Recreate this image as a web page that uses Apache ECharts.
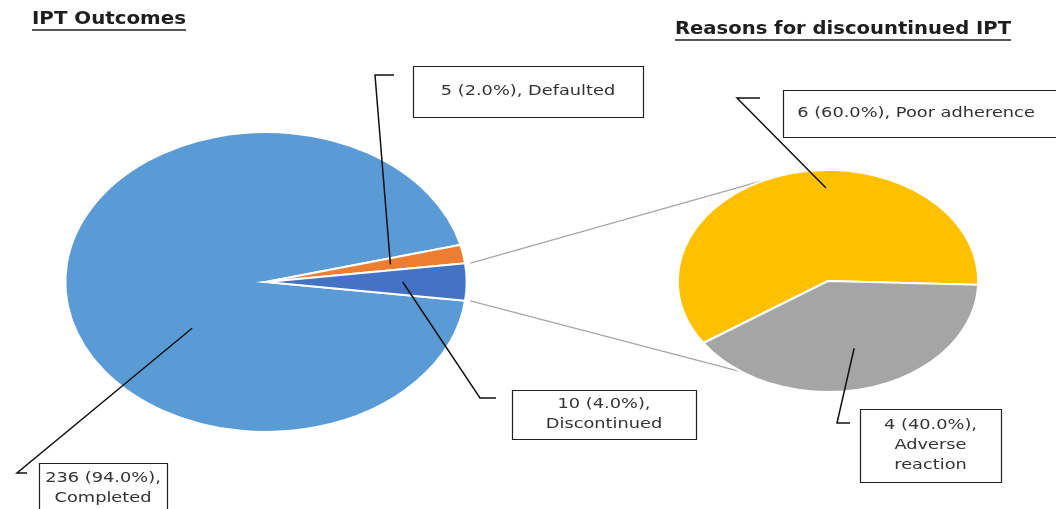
<!DOCTYPE html>
<html>
<head>
<meta charset="utf-8">
<script src="https://cdn.jsdelivr.net/npm/echarts@6/dist/echarts.min.js"></script>
<style>
  html, body { margin: 0; background: #fff; }
  #chart { width: 1056px; height: 509px; }
</style>
</head>
<body>
<div id="chart"></div>
<script>
// data
const outcomeNames = ["Completed", "Defaulted", "Discontinued"];
const outcomeValues = [236, 5, 10];
const reasonNames = ["Poor adherence", "Adverse reaction"];
const reasonValues = [6, 4];
const titleTexts = ["IPT Outcomes", "Reasons for discountinued IPT"];

// styles
const outcomeColors = ["#5b9bd5", "#ed7d31", "#4472c4"];
const reasonColors = ["#ffc000", "#a5a5a5"];
const TEXT_FONT = '14px "DejaVu Sans"';
const TITLE_FONT = 'bold 17px "DejaVu Sans"';
const TEXT_SCALE = 1.27;

function sum(a) {
  return a.reduce((s, v) => s + v, 0);
}

// the reference is stretched sideways, so pies are ellipses (circle * sx)
const leftPie = {
  cx: 266, cy: 282, ry: 150, sx: 1.34,
  names: outcomeNames, values: outcomeValues, colors: outcomeColors,
  order: [2, 1, 0], // counter-clockwise, "other" slice centred on the right
  start: -(outcomeValues[2] / sum(outcomeValues)) * 180,
};
const rightPie = {
  cx: 828, cy: 281, ry: 111, sx: 1.356,
  names: reasonNames, values: reasonValues, colors: reasonColors,
  order: [1, 0],
  start: -146,
};

function sliceAngles(pie) {
  const total = sum(pie.values);
  const out = [];
  let a = pie.start;
  pie.order.forEach((i) => {
    const span = (pie.values[i] / total) * 360;
    out[i] = [a, a + span];
    a += span;
  });
  return out;
}
leftPie.angles = sliceAngles(leftPie);
rightPie.angles = sliceAngles(rightPie);

function pointOn(pie, deg, frac) {
  const r = (deg * Math.PI) / 180;
  return [
    pie.cx + pie.sx * pie.ry * frac * Math.cos(r),
    pie.cy - pie.ry * frac * Math.sin(r),
  ];
}

function pieSeries(pie) {
  return {
    type: "custom",
    coordinateSystem: "none",
    silent: true,
    data: pie.values,
    renderItem: (params) => {
      const [a0, a1] = pie.angles[params.dataIndex];
      return {
        type: "sector",
        x: pie.cx,
        y: pie.cy,
        scaleX: pie.sx,
        shape: {
          cx: 0, cy: 0, r: pie.ry, r0: 0,
          startAngle: (-a0 * Math.PI) / 180,
          endAngle: (-a1 * Math.PI) / 180,
          clockwise: false,
        },
        style: {
          fill: pie.colors[params.dataIndex],
          stroke: "#fff",
          lineWidth: 2,
          strokeNoScale: true,
        },
      };
    },
  };
}

// label boxes and leader lines (layout only)
const labelLayout = [
  { pie: leftPie, idx: 1, frac: 0.63, elbow: [375, 75], end: [394, 75], box: [413, 66, 230, 51], oneLine: true },
  { pie: leftPie, idx: 2, frac: 0.68, elbow: [480, 398], end: [496, 398], box: [512, 390, 184, 49] },
  { pie: leftPie, idx: 0, angle: 220, frac: 0.48, elbow: [17, 473], end: [27, 473], box: [39, 463, 128, 60], textY: 488 },
  { pie: rightPie, idx: 0, angle: 91, frac: 0.84, elbow: [737, 98], end: [760, 98], box: [783, 90, 290, 47], oneLine: true, textX: 916 },
  { pie: rightPie, idx: 1, frac: 0.63, elbow: [837, 423], end: [850, 423], box: [860, 409, 141, 73], splitName: true },
];

function labelText(pie, i, l) {
  const pct = ((pie.values[i] / sum(pie.values)) * 100).toFixed(1);
  const name = l.splitName ? pie.names[i].replace(" ", "\n") : pie.names[i];
  return pie.values[i] + " (" + pct + "%)," + (l.oneLine ? " " : "\n") + name;
}

const graphics = [];

// connector lines between the "Discontinued" slice and the second pie
const disc = leftPie.angles[2];
[[disc[1], 112], [disc[0], -125]].forEach(([a, b]) => {
  const p = pointOn(leftPie, a, 1.01);
  const q = pointOn(rightPie, b, 1);
  graphics.push({
    type: "line", z: 1,
    shape: { x1: p[0] + 3, y1: p[1], x2: q[0], y2: q[1] },
    style: { stroke: "#a6a6a6", lineWidth: 1.2 },
  });
});

labelLayout.forEach((l) => {
  const ang = l.angle !== undefined ? l.angle : (l.pie.angles[l.idx][0] + l.pie.angles[l.idx][1]) / 2;
  const s = pointOn(l.pie, ang, l.frac);
  graphics.push({
    type: "polyline", z: 10,
    shape: { points: [s, l.elbow, l.end] },
    style: { stroke: "#111", lineWidth: 1.5, fill: null },
  });
  const [bx, by, bw, bh] = l.box;
  graphics.push({
    type: "rect", z: 10,
    shape: { x: bx + 0.5, y: by + 0.5, width: bw, height: bh },
    style: { fill: "#fff", stroke: "#222", lineWidth: 1.2 },
  });
  graphics.push({
    type: "text", z: 11,
    x: l.textX !== undefined ? l.textX : bx + bw / 2,
    y: l.textY !== undefined ? l.textY : by + bh / 2,
    scaleX: TEXT_SCALE,
    style: {
      text: labelText(l.pie, l.idx, l),
      font: TEXT_FONT,
      fill: "#333",
      align: "center",
      verticalAlign: "middle",
      lineHeight: 20,
    },
  });
});

// underlined titles, stretched to the width they have in the picture
const ctx = document.createElement("canvas").getContext("2d");
function textWidth(t, font) {
  ctx.font = font;
  return ctx.measureText(t).width;
}
const titleLayout = [
  { x0: 32, x1: 186, y: 20, uy: 30 },
  { x0: 675, x1: 1011, y: 30, uy: 40 },
];
titleLayout.forEach((t, i) => {
  graphics.push({
    type: "text", z: 11,
    x: t.x0, y: t.y,
    scaleX: (t.x1 - t.x0) / textWidth(titleTexts[i], TITLE_FONT),
    style: {
      text: titleTexts[i],
      font: TITLE_FONT,
      fill: "#1e1e1e",
      align: "left",
      verticalAlign: "middle",
    },
  });
  graphics.push({
    type: "line", z: 11,
    shape: { x1: t.x0, y1: t.uy, x2: t.x1, y2: t.uy },
    style: { stroke: "#1e1e1e", lineWidth: 1.5 },
  });
});

const chart = echarts.init(document.getElementById("chart"));
chart.setOption({
  backgroundColor: "#fff",
  animation: false,
  series: [pieSeries(leftPie), pieSeries(rightPie)],
  graphic: graphics,
});
</script>
</body>
</html>
